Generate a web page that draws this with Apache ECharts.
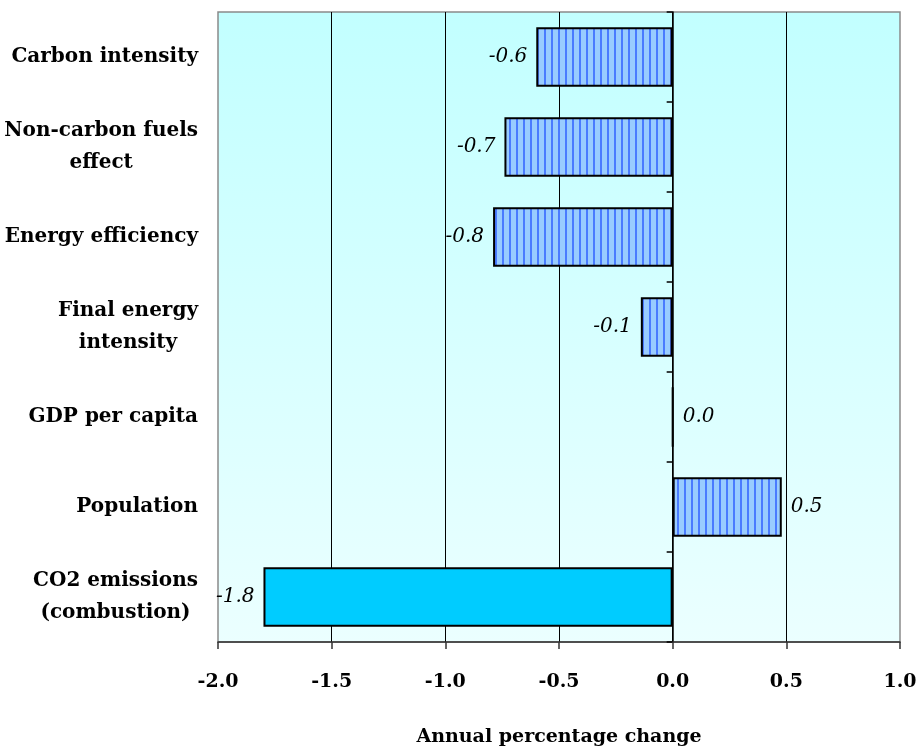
<!DOCTYPE html>
<html>
<head>
<meta charset="utf-8">
<script src="https://cdn.jsdelivr.net/npm/echarts@6/dist/echarts.min.js"></script>
<style>
  html, body { margin: 0; padding: 0; background: #fff; }
  #chart { width: 919px; height: 747px; }
</style>
</head>
<body>
<div id="chart"></div>
<script>
// Decomposition factors, listed top to bottom
const categories = [
  'Carbon intensity',
  'Non-carbon fuels\neffect',
  'Energy efficiency',
  'Final energy\nintensity',
  'GDP per capita',
  'Population',
  'CO2 emissions\n(combustion)'
];
// Annual percentage change of each factor
const values = [-0.60, -0.74, -0.79, -0.14, 0.0, 0.48, -1.80];
// Value axis range and step
const axisMin = -2.0;
const axisMax = 1.0;
const axisStep = 0.5;

const SERIF = '"DejaVu Serif", "Liberation Serif", serif';

// Vertical hatch fill for the contributing factors
function stripePattern() {
  const c = document.createElement('canvas');
  c.width = 7; c.height = 4;
  const g = c.getContext('2d');
  g.fillStyle = '#99CCFF';
  g.fillRect(0, 0, 7, 4);
  g.fillStyle = '#4A7BFF';
  g.fillRect(5, 0, 2, 4);
  return c;
}
const hatch = { image: stripePattern(), repeat: 'repeat' };

const totalIndex = categories.length - 1;
const seriesData = values.map((v, i) => ({
  value: v,
  itemStyle: i === totalIndex
    ? { color: '#00CCFF', borderColor: '#000', borderWidth: 2 }
    : { color: hatch, borderColor: '#000', borderWidth: 2 },
  label: { position: v >= 0 ? 'right' : 'left' }
}));

const chart = echarts.init(document.getElementById('chart'), null, { renderer: 'canvas' });

chart.setOption({
  animation: false,
  backgroundColor: '#ffffff',
  grid: {
    left: 218, right: 19, top: 12, bottom: 105,
    outerBoundsMode: 'none',
    containLabel: false,
    show: true,
    borderColor: '#8a8a8a',
    borderWidth: 1.5,
    backgroundColor: new echarts.graphic.LinearGradient(0, 0, 0, 1, [
      { offset: 0, color: '#C2FFFF' },
      { offset: 1, color: '#EBFFFF' }
    ])
  },
  xAxis: {
    type: 'value',
    min: axisMin,
    max: axisMax,
    interval: axisStep,
    name: 'Annual percentage change',
    nameLocation: 'middle',
    nameGap: 86,
    nameTextStyle: { fontFamily: SERIF, fontWeight: 'bold', fontSize: 19, color: '#000' },
    axisLine: { show: true, onZero: false, lineStyle: { color: '#333', width: 1.5 } },
    axisTick: { show: true, length: 7, lineStyle: { color: '#333', width: 1.5 } },
    axisLabel: {
      margin: 31,
      fontFamily: SERIF, fontWeight: 'bold', fontSize: 19, color: '#000',
      formatter: v => v.toFixed(1)
    },
    splitLine: {
      show: true,
      showMinLine: false,
      showMaxLine: false,
      lineStyle: { color: '#000', width: 1 }
    }
  },
  yAxis: [
    {
      type: 'category',
      data: categories,
      inverse: true,
      axisLine: { show: false, onZero: false },
      axisTick: { show: false },
      splitLine: { show: false },
      axisLabel: {
        margin: 20,
        align: 'right',
        formatter: v => v.split('\n').map(l => '{c|' + l + '}').join('\n'),
        rich: {
          c: {
            align: 'center',
            fontFamily: SERIF, fontWeight: 'bold', fontSize: 20,
            lineHeight: 32, color: '#000'
          }
        }
      }
    },
    {
      type: 'category',
      data: categories,
      inverse: true,
      position: 'left',
      axisLine: { show: true, onZero: true, lineStyle: { color: '#000', width: 1.5 } },
      axisTick: { show: true, length: 6, lineStyle: { color: '#000', width: 1.5 } },
      axisLabel: { show: false },
      splitLine: { show: false }
    }
  ],
  series: [{
    type: 'bar',
    yAxisIndex: 0,
    data: seriesData,
    barWidth: '66%',
    label: {
      show: true,
      distance: 9,
      fontFamily: SERIF, fontStyle: 'italic', fontSize: 20, color: '#000',
      formatter: p => p.value.toFixed(1)
    }
  }]
});
</script>
</body>
</html>
